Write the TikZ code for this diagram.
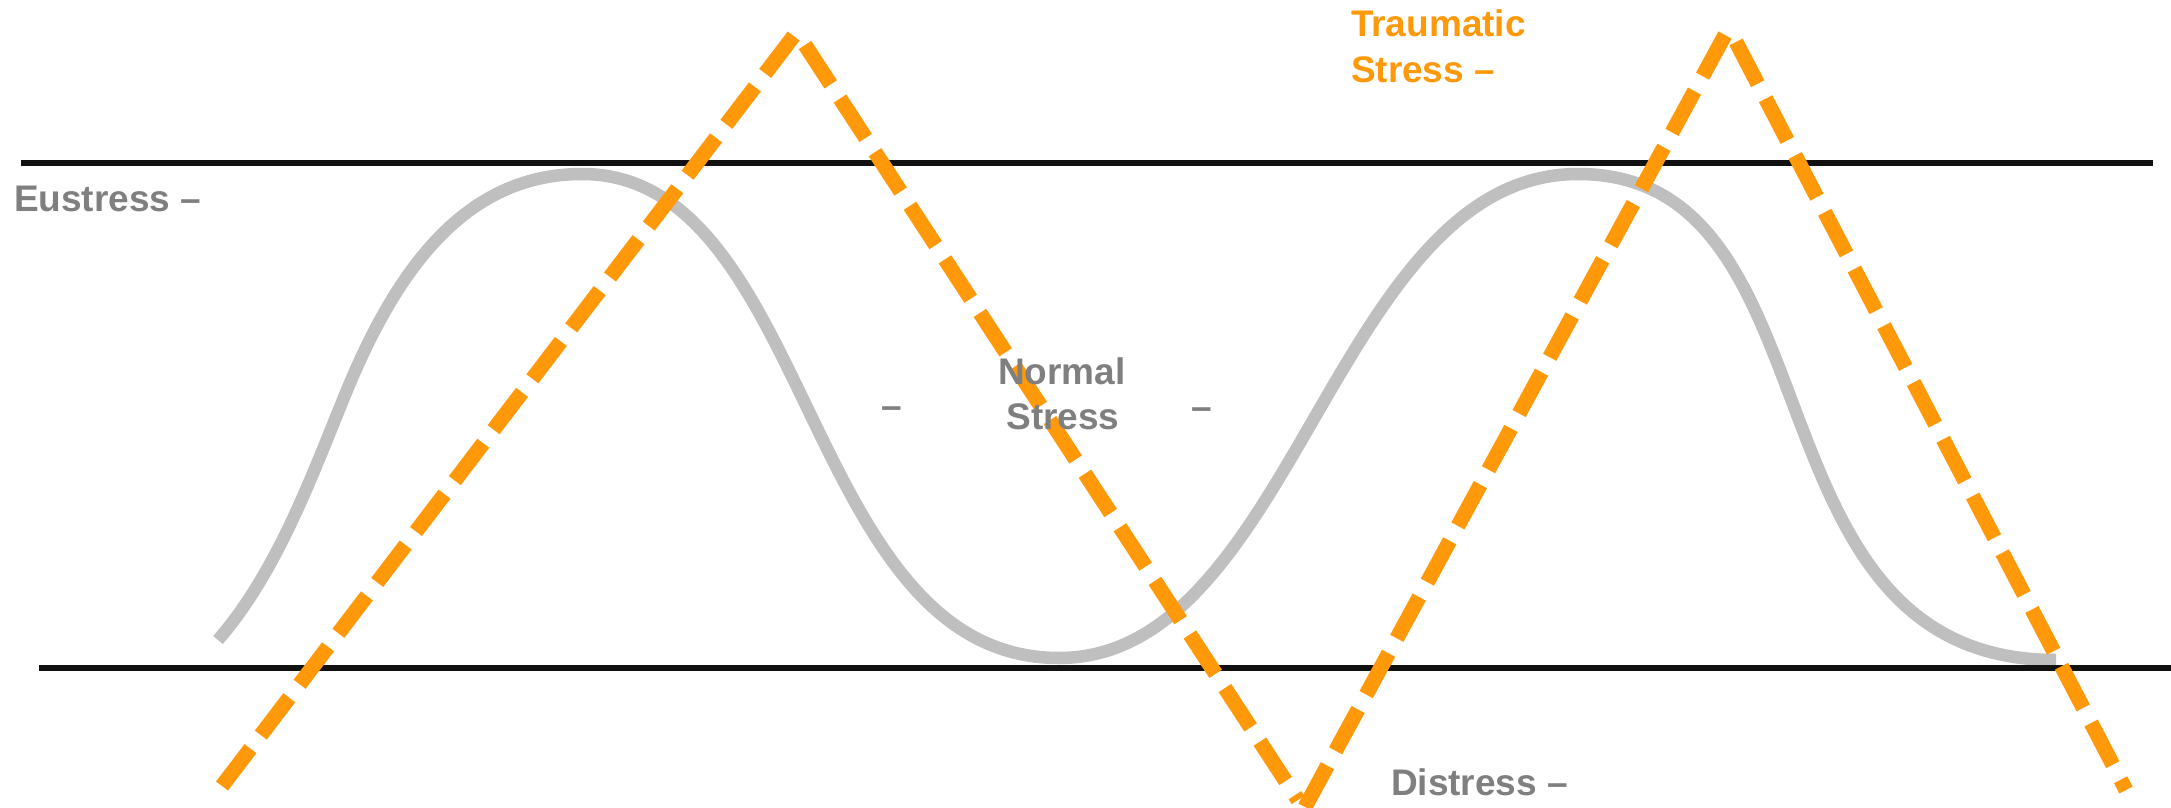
\documentclass[tikz,border=0pt]{standalone}
\usepackage{fontspec}
\setmainfont{Liberation Sans}
\definecolor{orng}{RGB}{255,153,10}
\definecolor{crvgray}{RGB}{191,191,191}
\definecolor{txtgray}{RGB}{127,127,127}
\definecolor{barblk}{RGB}{17,17,17}
\begin{document}
\begin{tikzpicture}[x=1pt,y=-1pt,
  lbl/.style={font=\fontsize{37}{45}\selectfont\bfseries, inner sep=0pt, outer sep=0pt},
  graylbl/.style={lbl, text=txtgray},
  orangelbl/.style={lbl, text=orng},
  levelbar/.style={draw=barblk, line width=6pt},
  stresscurve/.style={draw=crvgray, line width=12.5pt},
  traumaline/.style={draw=orng, line width=15pt, dash pattern=on 47pt off 17pt}]
\useasboundingbox (0,0) rectangle (2171,808);
% normal stress curve
\draw[stresscurve] (218,640) .. controls (277,572) and (311,478) .. (345,395)
  .. controls (394,275) and (462,174) .. (582,174)
  .. controls (813,174) and (803,658) .. (1059,658)
  .. controls (1294,658) and (1335,174) .. (1578,174)
  .. controls (1846,174) and (1737,660) .. (2056,660);
% level bars
\coordinate (topL) at (21,163);
\coordinate (topR) at (2153,163);
\coordinate (botL) at (39,668);
\coordinate (botR) at (2171,668);
\draw[levelbar] (topL) -- (topR);
\draw[levelbar] (botL) -- (botR);
% traumatic stress zigzag
\coordinate (t0) at (222,786);
\coordinate (t1a) at (796,33);
\coordinate (t1b) at (805,45);
\coordinate (t2a) at (1298,800);
\coordinate (t2b) at (1305,807);
\coordinate (t3a) at (1725,35);
\coordinate (t3b) at (1736,42);
\coordinate (t4) at (2126,790);
\draw[traumaline] (t0) -- (t1a);
\draw[traumaline] (t1b) -- (t2a);
\draw[traumaline] (t2b) -- (t3a);
\draw[traumaline] (t3b) -- (t4);
% labels
\node[graylbl, anchor=base west] (eu) at (14,211) {Eustress –};
\node[orangelbl, anchor=base west] (tr1) at (1351,37) {Traumatic};
\node[orangelbl, anchor=base west] (tr2) at (1351,82) {Stress –};
\node[graylbl, anchor=base] (no1) at (1062,384) {Normal};
\node[graylbl, anchor=base] (no2) at (1063,429) {Stress};
\node[graylbl, anchor=base] (dl) at (892,418) {–};
\node[graylbl, anchor=base] (dr) at (1202,419) {–};
\node[graylbl, anchor=base west] (di) at (1391,795) {Distress –};
\end{tikzpicture}
\end{document}
